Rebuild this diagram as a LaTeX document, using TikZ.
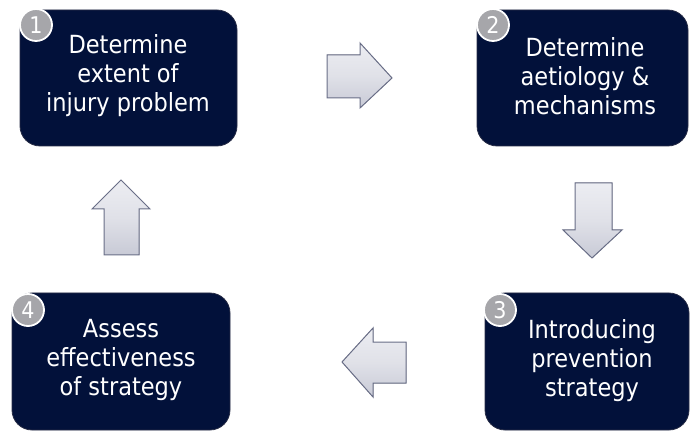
\documentclass[tikz,border=0pt]{standalone}
\usepackage{fontspec}
\setmainfont{DejaVu Sans Condensed}
\begin{document}
\begin{tikzpicture}[x=1pt,y=1pt,
  stagebox/.style={draw={rgb,255:red,40;green,45;blue,70}, line width=0.8pt, fill=navy, rounded corners=20pt},
  stagetext/.style={text=white, align=center, font=\fontsize{25}{29}\selectfont, inner sep=0pt},
  numcircle/.style={circle, draw=white, line width=1.8pt, fill=numgray, text=white, minimum size=32pt, inner sep=0pt, font=\fontsize{23}{23}\selectfont},
  flowarrow/.style={draw=arrowedge, line width=1pt, line join=miter, top color=arrowtop, bottom color=arrowfill, middle color=arrowmid}
]
\definecolor{navy}{RGB}{2,17,58}
\definecolor{numgray}{RGB}{166,166,170}
\definecolor{arrowedge}{RGB}{105,110,135}
\definecolor{arrowtop}{RGB}{236,237,242}
\definecolor{arrowfill}{RGB}{200,202,214}
\definecolor{arrowmid}{RGB}{224,225,232}
\useasboundingbox (0,0) rectangle (690,431);

% boxes
\draw[stagebox] (20,285) rectangle (237,421);
\draw[stagebox] (477,285) rectangle (688,421);
\draw[stagebox] (485,1) rectangle (689,138);
\draw[stagebox] (12,1) rectangle (230,138);

\node[stagetext] (t1) at (128,355) {Determine\\extent of\\injury problem};
\node[stagetext] (t2) at (585,355) {Determine\\aetiology \&\\mechanisms};
\node[stagetext] (t3) at (592,70) {Introducing\\prevention\\strategy};
\node[stagetext] (t4) at (121,71) {Assess\\effectiveness\\of strategy};

\node[numcircle] (n1) at (36,406) {1};
\node[numcircle] (n2) at (493,406) {2};
\node[numcircle] (n3) at (500,121) {3};
\node[numcircle] (n4) at (28,121) {4};

% arrows
\filldraw[flowarrow] (327,376) -- (360,376) -- (360,388) -- (392,353) -- (360,323) -- (360,333) -- (327,333) -- cycle;
\filldraw[flowarrow] (575,248) -- (612,248) -- (612,201) -- (622,201) -- (592,173) -- (563,201) -- (575,201) -- cycle;
\filldraw[flowarrow] (406,89) -- (373,89) -- (373,103) -- (342,69) -- (373,34) -- (373,48) -- (406,48) -- cycle;
\filldraw[flowarrow] (104,176) -- (139,176) -- (139,222) -- (150,222) -- (121,251) -- (92,222) -- (104,222) -- cycle;
\end{tikzpicture}
\end{document}
